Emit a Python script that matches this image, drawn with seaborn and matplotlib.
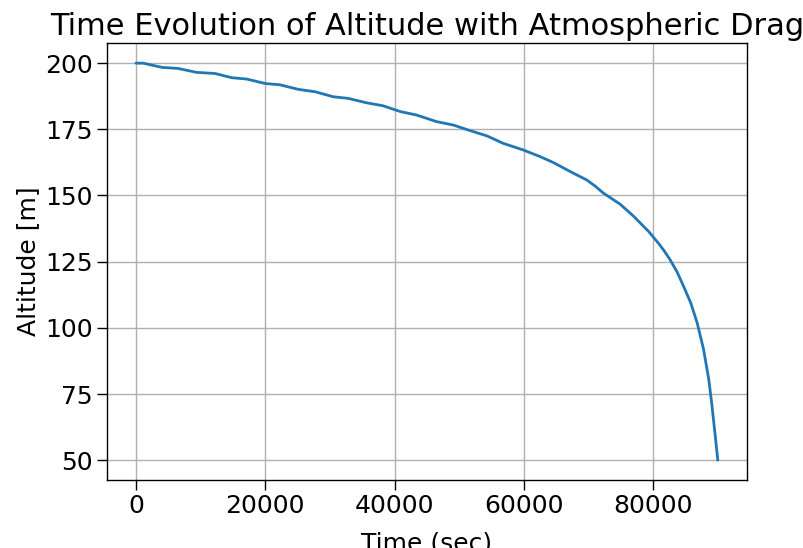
import matplotlib
matplotlib.use('Agg')
import matplotlib.pyplot as plt
import numpy as np
import pandas as pd
import seaborn as sns

# values
time_sec = [0, 1100, 4000, 6500, 9400, 12200, 14800, 17100, 20000, 22300,
            25100, 27700, 30500, 32800, 35700, 38200, 40900, 43400, 46500,
            49100, 51700, 54300, 56800, 59900, 62500, 64600, 67200, 69700,
            71000, 72300, 74900, 77000, 79300, 80800, 81700, 82600, 83700,
            84700, 85800, 86800, 87800, 88600, 89100, 89600, 90000]
altitude = [200.0, 200.0, 198.4, 198.0, 196.5, 196.1, 194.5, 194.0, 192.3,
            191.8, 190.1, 189.2, 187.3, 186.7, 185.0, 183.9, 181.7, 180.4,
            177.9, 176.6, 174.5, 172.5, 169.7, 167.2, 164.7, 162.4, 159.0,
            155.9, 153.6, 150.9, 146.7, 142.1, 136.4, 132.0, 129.1, 125.8,
            121.1, 115.7, 109.5, 101.9, 91.8, 80.5, 70.5, 59.2, 50.0]

df = pd.DataFrame({'t': time_sec, 'alt': altitude})

sns.set_style('ticks')
plt.rcParams['font.family'] = ['DejaVu Sans']
plt.rcParams['text.color'] = 'black'
plt.rcParams['axes.labelcolor'] = 'black'
plt.rcParams['xtick.color'] = 'black'
plt.rcParams['ytick.color'] = 'black'

fig, ax = plt.subplots(figsize=(8.04, 5.48), dpi=100)
sns.lineplot(data=df, x='t', y='alt', ax=ax, color='#1f77b4', linewidth=2)

ax.set_title('Time Evolution of Altitude with Atmospheric Drag', fontsize=22, color='black')
ax.set_xlabel('Time (sec)', fontsize=18, labelpad=10)
ax.set_ylabel('Altitude [m]', fontsize=18)
ax.tick_params(labelsize=18, length=7, width=1, pad=3)
ax.set_xticks([0, 20000, 40000, 60000, 80000])
ax.grid(True, color='#b0b0b0', linewidth=1)
for s in ax.spines.values():
    s.set_color('black')
    s.set_linewidth(1)

fig.subplots_adjust(left=0.133, right=0.929, bottom=0.124, top=0.921)
fig.savefig('out.png', dpi=100)
